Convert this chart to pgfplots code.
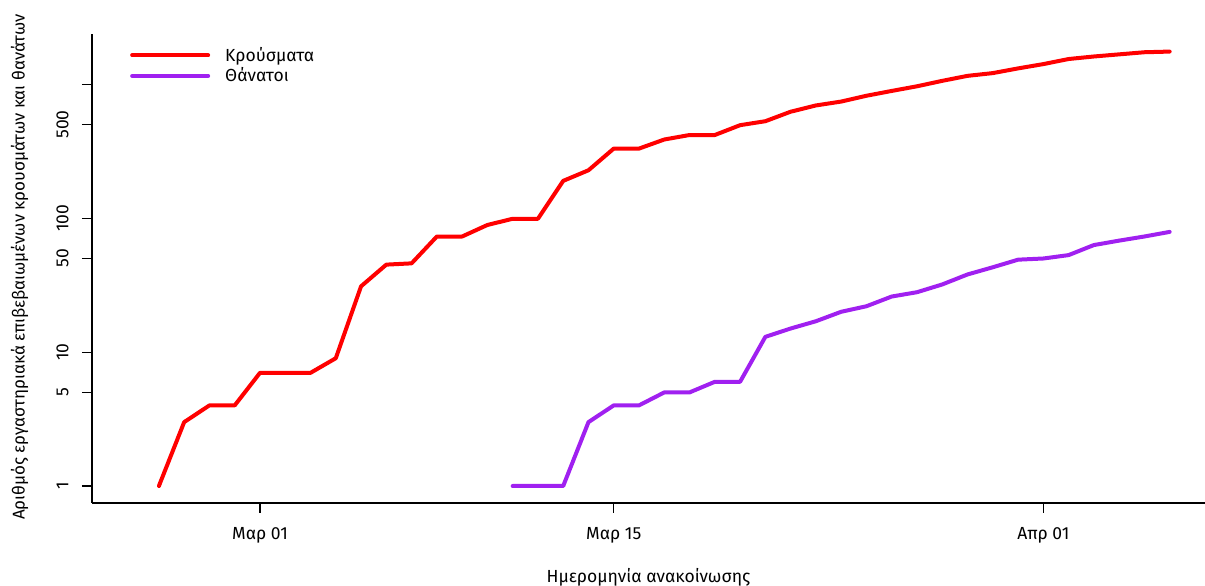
\documentclass[border=0pt]{standalone}
\usepackage{fontspec}
\setmainfont{Fira Sans}
\usepackage{pgfplots}
\pgfplotsset{compat=1.18}
\definecolor{rpurple}{RGB}{160,32,240}
\newcommand{\lblfont}{\fontsize{17.5}{20}\selectfont}

\begin{document}
\begin{tikzpicture}
\begin{axis}[
  at={(92pt,83pt)}, anchor=south west,
  scale only axis, width=1113pt, height=469pt,
  xmin=-6.648, xmax=37.40,
  ymode=log, ymin=0.7466, ymax=2375,
  axis x line*=bottom, axis y line*=left,
  axis line style={-, line width=1.1pt, black},
  tick align=outside, major tick length=10pt,
  tick style={line width=1.1pt, black},
  xtick={0,14,31}, xticklabels={Μαρ 01,Μαρ 15,Απρ 01},
  ytick={1,5,10,50,100,500,1000}, yticklabels={1,5,10,50,100,500,{}},
  minor xtick={}, minor ytick={},
  /pgf/number format/assume math mode=true,
  every tick label/.append style={font=\lblfont},
  xticklabel style={yshift=-11pt},
  yticklabel style={xshift=-10pt, rotate=90, anchor=south},
  label style={font=\lblfont},
  xlabel={Ημερομηνία ανακοίνωσης},
  xlabel style={at={(axis description cs:0.5,-0.1685)}, anchor=base},
  ylabel={Αριθμός εργαστηριακά επιβεβαιωμένων κρουσμάτων και θανάτων},
  ylabel style={at={(axis description cs:-0.0605,0.503)}, anchor=base,
    font=\fontsize{17}{20}\selectfont},
  every axis plot/.append style={line width=4pt, line join=round, line cap=round},
  legend image code/.code={\draw[#1] (0pt,0pt) -- (76pt,0pt);},
  legend cell align=left,
  legend style={draw=none, fill=none, inner sep=0pt, font=\lblfont,
    at={(0.0341,0.9773)}, anchor=north west, column sep=14pt, row sep=0pt,
    nodes={inner sep=1pt, text height=15.35pt, text depth=3.35pt}},
]
% cases, day 0 = 1 March 2020
\addplot[color=red] coordinates {
  (-4,1) (-3,3) (-2,4) (-1,4) (0,7) (1,7) (2,7) (3,9) (4,31) (5,45)
  (6,46) (7,73) (8,73) (9,89) (10,99) (11,99) (12,190) (13,228) (14,331) (15,331)
  (16,387) (17,418) (18,418) (19,495) (20,530) (21,624) (22,695) (23,743) (24,821) (25,892)
  (26,966) (27,1061) (28,1156) (29,1212) (30,1314) (31,1415) (32,1544) (33,1613) (34,1673) (35,1735)
  (36,1755)
};
\addlegendentry{Κρούσματα}
% deaths
\addplot[color=rpurple] coordinates {
  (10,1) (11,1) (12,1) (13,3) (14,4) (15,4) (16,5) (17,5) (18,6) (19,6)
  (20,13) (21,15) (22,17) (23,20) (24,22) (25,26) (26,28) (27,32) (28,38) (29,43)
  (30,49) (31,50) (32,53) (33,63) (34,68) (35,73) (36,79)
};
\addlegendentry{Θάνατοι}
\end{axis}
\pgfresetboundingbox
\path[use as bounding box] (0,0) rectangle (1205pt,586pt);
\end{tikzpicture}
\end{document}
